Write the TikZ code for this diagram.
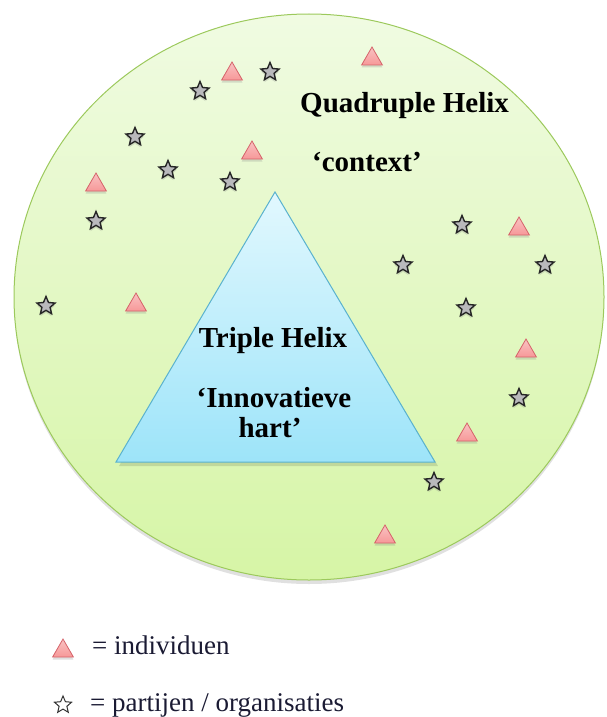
\documentclass[tikz,border=0pt]{standalone}
\usepackage{fontspec}
\setmainfont{Liberation Serif}
\usetikzlibrary{shapes.geometric,shadows}
\definecolor{ringline}{HTML}{9CC95C}
\definecolor{ringtop}{HTML}{F0FBE2}
\definecolor{ringbot}{HTML}{D6F5A6}
\definecolor{coretop}{HTML}{E2F8FE}
\definecolor{corebot}{HTML}{9DE4F9}
\definecolor{coreline}{HTML}{5AB2CE}
\definecolor{indfill}{HTML}{F6A9A9}
\definecolor{indline}{HTML}{D5636A}
\definecolor{orgfill}{HTML}{B9B9BC}
\definecolor{keyink}{HTML}{1A1A33}
\tikzset{
  indiv/.style={regular polygon, regular polygon sides=3, minimum size=24pt, inner sep=0pt,
    yshift=-3pt, draw=indline, line width=0.8pt, top color=indfill!70!white, bottom color=indfill!90!red,
    drop shadow={shadow xshift=0pt, shadow yshift=-2.5pt, opacity=0.25}},
  org/.style={star, star points=5, star point ratio=2.2, minimum size=19pt, inner sep=0pt,
    draw=black!85, line width=1.4pt, fill=orgfill,
    drop shadow={shadow xshift=0pt, shadow yshift=-2.5pt, opacity=0.25}},
  orgkey/.style={star, star points=5, star point ratio=2.2, minimum size=18pt, inner sep=0pt,
    draw=black!80, line width=1pt, fill=white},
  bigtxt/.style={font=\fontsize{29}{30}\selectfont\bfseries, inner sep=0pt},
  keytxt/.style={font=\fontsize{27}{28}\selectfont, text=keyink, inner sep=0pt, anchor=base west},
}
\begin{document}
\begin{tikzpicture}[x=1pt,y=-1pt]
\useasboundingbox (0,0) rectangle (606,717);
% outer context circle
\fill[black, opacity=0.12] (309,300) ellipse [x radius=295, y radius=284];
\draw[ringline, line width=1pt, top color=ringtop, bottom color=ringbot] (309,297) ellipse [x radius=295, y radius=283];
% inner triangle
\fill[black, opacity=0.12] (275,195) -- (438,466) -- (119,466) -- cycle;
\draw[coreline, line width=1pt, top color=coretop, bottom color=corebot] (275,192) -- (435,462) -- (116,462) -- cycle;
% labels
\node[bigtxt, anchor=base west] (quad) at (300,112) {Quadruple Helix};
\node[bigtxt, anchor=base west] (ctx) at (312,171) {‘context’};
\node[bigtxt, anchor=base] (triple) at (273,347) {Triple Helix};
\node[bigtxt, anchor=base] (innov) at (274,407) {‘Innovatieve};
\node[bigtxt, anchor=base] (hart) at (270,437) {hart’};
% individuals
\node[indiv] (i1) at (372,56) {};
\node[indiv] (i2) at (232,71) {};
\node[indiv] (i3) at (252,150) {};
\node[indiv] (i4) at (96,182) {};
\node[indiv] (i5) at (519,226) {};
\node[indiv] (i6) at (136,302) {};
\node[indiv] (i7) at (526,348) {};
\node[indiv] (i8) at (467,432) {};
\node[indiv] (i9) at (385,534) {};
% organisations
\node[org] (o1) at (200,91) {};
\node[org] (o2) at (270,72) {};
\node[org] (o3) at (135,137) {};
\node[org] (o4) at (168,170) {};
\node[org] (o5) at (230,182) {};
\node[org] (o6) at (96,221) {};
\node[org] (o7) at (46,306) {};
\node[org] (o8) at (462,225) {};
\node[org] (o9) at (403,265) {};
\node[org] (o10) at (545,265) {};
\node[org] (o11) at (466,308) {};
\node[org] (o12) at (519,398) {};
\node[org] (o13) at (434,482) {};
% legend
\node[indiv] (keyi) at (63,648) {};
\node[keytxt] (keyit) at (92,654) {= individuen};
\node[orgkey] (keyo) at (63,705) {};
\node[keytxt] (keyot) at (90,711) {= partijen / organisaties};
\end{tikzpicture}
\end{document}
